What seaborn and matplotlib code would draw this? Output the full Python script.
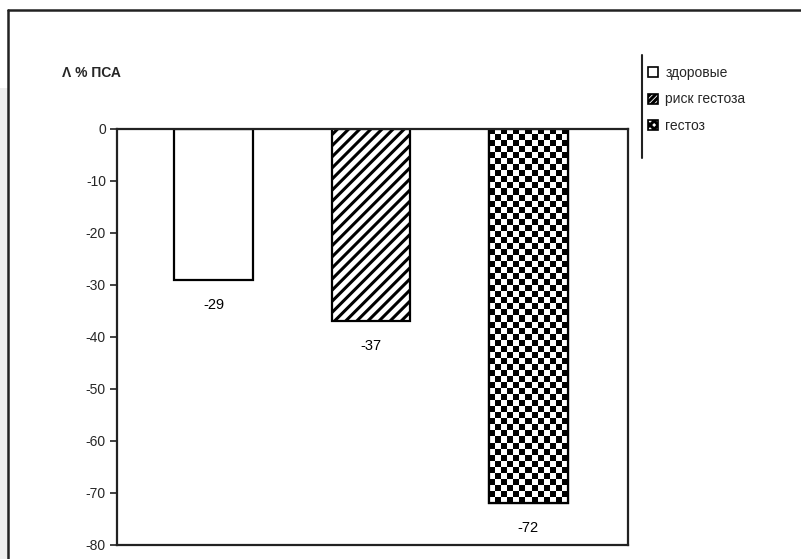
import numpy as np
import pandas as pd
import matplotlib
matplotlib.use("Agg")
import matplotlib.pyplot as plt
import seaborn as sns
from matplotlib.patches import Patch, Rectangle
from matplotlib.lines import Line2D

groups = ["здоровые", "риск гестоза", "гестоз"]
values = [-29, -37, -72]
value_labels = ["-29", "-37", "-72"]
yticks = [0, -10, -20, -30, -40, -50, -60, -70, -80]
title_text = "Λ % ПСА"

sns.set_theme(style="white")
plt.rcParams["font.family"] = ["Liberation Sans", "DejaVu Sans"]
plt.rcParams["hatch.linewidth"] = 2.2
plt.rcParams["hatch.color"] = "black"

df = pd.DataFrame({"group": groups, "value": values})

fig = plt.figure(figsize=(8.01, 5.59), dpi=100)
fig.patch.set_facecolor("white")

# gray strip at left and outer frame
fig.add_artist(Rectangle((0, 0), 8 / 801, 1 - 88 / 559, transform=fig.transFigure,
                         facecolor="#eeeeee", edgecolor="none", zorder=0))
fig.add_artist(Line2D([8 / 801, 8 / 801], [0, 1 - 10 / 559], transform=fig.transFigure,
                      color="#222222", lw=1.8))
fig.add_artist(Line2D([8 / 801, 1], [1 - 10 / 559, 1 - 10 / 559], transform=fig.transFigure,
                      color="#222222", lw=1.8))

ax = fig.add_axes([117 / 801, 1 - 545 / 559, (628 - 117) / 801, (545 - 129) / 559])

sns.barplot(data=df, x="group", y="value", hue="group", palette=["white"] * 3,
            edgecolor="black", linewidth=1.6, width=0.5, dodge=False, legend=False, ax=ax)

ax.set_xlim(-0.615, 2.634)
ax.set_ylim(-80, 0)
ax.set_yticks(yticks)
ax.set_yticklabels([str(t) for t in yticks], fontsize=10)
ax.set_xticks([])
ax.set_xlabel("")
ax.set_ylabel("")
ax.tick_params(axis="y", which="both", direction="out", length=5, width=1.2,
               color="#222222", pad=3, left=True)
for s in ax.spines.values():
    s.set_visible(True)
    s.set_color("#222222")
    s.set_linewidth(1.6)

bars = ax.patches[:3]
bars[1].set_hatch("///")

# checkerboard fill for third bar
fig.canvas.draw()
p = bars[2]
x0, y0, w, h = p.get_x(), p.get_y(), p.get_width(), p.get_height()
(px0, py0) = ax.transData.transform((x0, y0))
(px1, py1) = ax.transData.transform((x0 + w, y0 + h))
cell = 6.0
nx = max(1, int(round(abs(px1 - px0) / cell)))
ny = max(1, int(round(abs(py1 - py0) / cell)))
board = (np.indices((ny, nx)).sum(axis=0) % 2).astype(float)
im = ax.imshow(board, cmap="gray", extent=(x0, x0 + w, y0 + h, y0) if h < 0 else (x0, x0 + w, y0, y0 + h),
               interpolation="nearest", aspect="auto", zorder=p.get_zorder() + 0.1, vmin=0, vmax=1)
im.set_clip_path(p)
p_edge = Rectangle((x0, y0), w, h, facecolor="none", edgecolor="black", lw=1.6,
                   zorder=p.get_zorder() + 0.2)
ax.add_patch(p_edge)
ax.set_xlim(-0.615, 2.634)
ax.set_ylim(-80, 0)

for b, lab in zip(bars, value_labels):
    ax.annotate(lab, (b.get_x() + b.get_width() / 2, b.get_y() + b.get_height()),
                xytext=(0, -18), textcoords="offset points", ha="center", va="center",
                fontsize=10.5, color="black")

fig.text(62 / 801, 1 - 73 / 559, title_text, fontsize=10, fontweight="bold",
         ha="left", va="center")

handles = [Patch(facecolor="white", edgecolor="black", lw=1.2),
           Patch(facecolor="white", edgecolor="black", lw=1.2, hatch="//////"),
           Patch(facecolor="white", edgecolor="black", lw=1.2, hatch="xxxx")]
leg = fig.legend(handles, groups, loc="upper left",
                 bbox_to_anchor=(648 / 801, 1 - 66 / 559), frameon=False,
                 fontsize=10, handlelength=0.75, handleheight=0.75,
                 handletextpad=0.5, labelspacing=0.9, borderaxespad=0, borderpad=0)
fig.add_artist(Line2D([642 / 801, 642 / 801], [1 - 55 / 559, 1 - 158 / 559],
                      transform=fig.transFigure, color="#222222", lw=1.5))

fig.savefig("out.png", dpi=100, facecolor="white")
